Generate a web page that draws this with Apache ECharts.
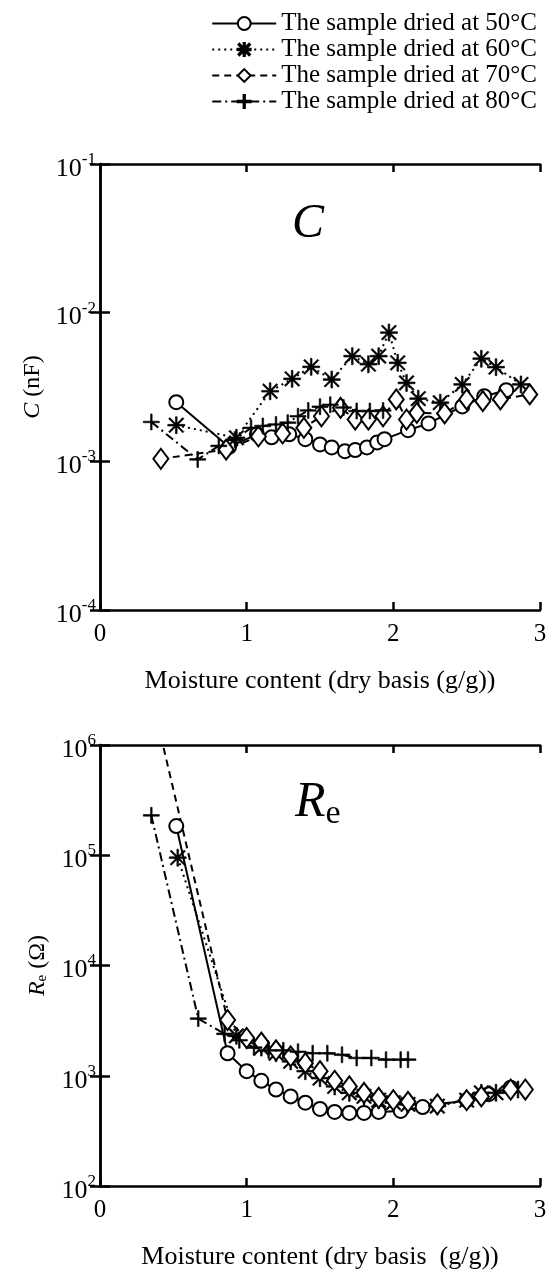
<!DOCTYPE html>
<html><head><meta charset="utf-8">
<script src="https://cdn.jsdelivr.net/npm/echarts@6/dist/echarts.min.js"></script>
<style>html,body{margin:0;padding:0;background:#fff}#c{width:550px;height:1271px}</style>
</head><body><div id="c"></div>
<script>
// ---- data ----
const seriesNames = ['The sample dried at 50\u00B0C','The sample dried at 60\u00B0C','The sample dried at 70\u00B0C','The sample dried at 80\u00B0C'];
const xTicks = [0,1,2,3];

// Capacitance C (nF)
const c50_x = [0.52,0.88,1.07,1.17,1.29,1.40,1.50,1.58,1.67,1.74,1.82,1.89,1.94,2.10,2.24,2.47,2.62,2.77];
const c50_y = [2.5e-3,1.25e-3,1.52e-3,1.45e-3,1.52e-3,1.41e-3,1.30e-3,1.24e-3,1.17e-3,1.19e-3,1.24e-3,1.34e-3,1.41e-3,1.62e-3,1.80e-3,2.34e-3,2.74e-3,3.01e-3];
const c60_x = [0.52,0.93,1.16,1.31,1.44,1.58,1.72,1.83,1.90,1.97,2.03,2.09,2.17,2.32,2.47,2.60,2.70,2.87];
const c60_y = [1.75e-3,1.44e-3,2.96e-3,3.59e-3,4.32e-3,3.55e-3,5.1e-3,4.5e-3,5.1e-3,7.35e-3,4.6e-3,3.37e-3,2.64e-3,2.48e-3,3.29e-3,4.9e-3,4.3e-3,3.29e-3];
const c70_x = [0.415,0.86,1.08,1.245,1.39,1.51,1.64,1.74,1.83,1.93,2.02,2.09,2.16,2.35,2.50,2.61,2.73,2.93];
const c70_y = [1.04e-3,1.2e-3,1.47e-3,1.54e-3,1.68e-3,2.01e-3,2.29e-3,1.91e-3,1.91e-3,2.01e-3,2.61e-3,1.91e-3,2.12e-3,2.10e-3,2.61e-3,2.54e-3,2.61e-3,2.82e-3];
const c80_x = [0.35,0.666,0.81,0.92,1.03,1.11,1.20,1.28,1.35,1.42,1.50,1.57,1.66,1.75,1.84,1.93];
const c80_y = [1.84e-3,1.03e-3,1.27e-3,1.4e-3,1.68e-3,1.73e-3,1.77e-3,1.82e-3,2.01e-3,2.2e-3,2.33e-3,2.4e-3,2.3e-3,2.18e-3,2.18e-3,2.2e-3];

// Resistance Re (Ohm)
const r50_x = [0.52,0.87,1.0,1.1,1.2,1.3,1.4,1.5,1.6,1.7,1.8,1.9,2.05,2.2,2.5,2.65,2.8];
const r50_y = [1.84e5,1.6e3,1.1e3,9e2,7.5e2,6.5e2,5.7e2,5e2,4.7e2,4.6e2,4.6e2,4.7e2,4.8e2,5.2e2,6e2,6.8e2,7.8e2];
const r60_x = [0.53,0.93,1.1,1.2,1.3,1.4,1.5,1.6,1.7,1.8,1.9,2.0,2.1,2.3,2.5,2.6,2.7,2.85];
const r60_y = [9.5e4,2.3e3,1.8e3,1.6e3,1.35e3,1.1e3,9.5e2,8e2,7e2,6.5e2,6e2,5.7e2,5.5e2,5.3e2,6e2,7e2,7e2,7.5e2];
const r70_x = [0.415,0.87,1.0,1.1,1.2,1.3,1.4,1.5,1.6,1.7,1.8,1.9,2.0,2.1,2.3,2.5,2.6,2.8,2.9];
const r70_y = [1.2e6,3.2e3,2.2e3,2e3,1.7e3,1.5e3,1.3e3,1.1e3,9e2,8e2,7e2,6.3e2,6e2,5.8e2,5.5e2,6e2,6.5e2,7.5e2,7.5e2];
const r80_x = [0.35,0.67,0.85,0.95,1.05,1.15,1.25,1.35,1.45,1.55,1.65,1.75,1.85,1.95,2.05,2.1];
const r80_y = [2.3e5,3.3e3,2.4e3,2.1e3,1.8e3,1.7e3,1.7e3,1.65e3,1.6e3,1.6e3,1.55e3,1.45e3,1.45e3,1.4e3,1.4e3,1.4e3];

// ---- rendering ----
const FONT = '"Liberation Serif","Times New Roman",serif';
const pair = (xs, ys) => xs.map((v, i) => [v, ys[i]]);
const ASTER = 'path://M9,0h2v20h-2z M0,9h20v2h-20z M1,2.4L2.4,1L19,17.6L17.6,19z M17.6,1L19,2.4L2.4,19L1,17.6z';
const PLUS = 'path://M9,0h2v20h-2z M0,9h20v2h-20z';

const styles = [
  {symbol: 'emptyCircle', symbolSize: 14, line: 'solid', iw: 2},
  {symbol: ASTER, symbolSize: 17, line: [2, 4], iw: 0.6},
  {symbol: 'emptyDiamond', symbolSize: [15, 20], line: [7, 5], iw: 2},
  {symbol: PLUS, symbolSize: 16, line: [9, 4, 2, 4], iw: 0.6}
];

function mk(i, data, gi) {
  const s = styles[i];
  return {
    name: seriesNames[i], type: 'line', data: data,
    xAxisIndex: gi * 2, yAxisIndex: gi * 2,
    symbol: s.symbol, symbolSize: s.symbolSize, showAllSymbol: true,
    clip: true, animation: false,
    lineStyle: {color: '#000', width: 2, type: s.line},
    itemStyle: {color: '#000', borderColor: '#000', borderWidth: s.iw}
  };
}

const supLabel = v => {
  const e = Math.round(Math.log10(v));
  return '{a|10}{e|' + e + '}';
};
const yLabelRich = {
  a: {fontFamily: FONT, fontSize: 26, color: '#000', padding: [10, 0, 0, 0]},
  e: {fontFamily: FONT, fontSize: 17, color: '#000', padding: [0, 0, 9, 0]}
};

function xAx(gi, name, gap) {
  return [
    {gridIndex: gi, type: 'value', min: 0, max: 3, interval: 1, position: 'bottom',
     axisLine: {lineStyle: {color: '#000', width: 2.5}},
     axisTick: {inside: true, length: 8, lineStyle: {width: 2.5, color: '#000'}},
     axisLabel: {fontFamily: FONT, fontSize: 25, color: '#000', margin: 12},
     splitLine: {show: false},
     name: name, nameLocation: 'middle', nameGap: gap,
     nameTextStyle: {fontFamily: FONT, fontSize: 26, color: '#000'}},
    {gridIndex: gi, type: 'value', min: 0, max: 3, interval: 1, position: 'top',
     axisLine: {lineStyle: {color: '#000', width: 2.5}},
     axisTick: {inside: true, length: 8, lineStyle: {width: 2.5, color: '#000'}},
     axisLabel: {show: false}, splitLine: {show: false}}
  ];
}
function yAx(gi, mn, mx, nameRich, nameStr) {
  return [
    {gridIndex: gi, type: 'log', logBase: 10, min: mn, max: mx, position: 'left',
     axisLine: {lineStyle: {color: '#000', width: 2.5}},
     axisTick: {inside: true, length: 10, lineStyle: {width: 2.5, color: '#000'}},
     minorTick: {show: false},
     axisLabel: {formatter: supLabel, rich: yLabelRich, margin: 4},
     splitLine: {show: false},
     name: nameStr, nameLocation: 'middle', nameGap: 50, nameRotate: 90,
     nameTextStyle: {fontFamily: FONT, fontSize: 24, color: '#000', rich: nameRich}},
    {gridIndex: gi, type: 'log', logBase: 10, min: mn, max: mx, position: 'right',
     axisLine: {lineStyle: {color: '#000', width: 2.5}},
     axisTick: {inside: true, length: 10, lineStyle: {width: 2.5, color: '#000'}},
     axisLabel: {show: false}, splitLine: {show: false}}
  ];
}

const option = {
  backgroundColor: '#fff',
  animation: false,
  textStyle: {fontFamily: FONT},
  legend: {
    orient: 'vertical', right: 8, top: 6, itemWidth: 64, itemHeight: 16, itemGap: 1,
    data: seriesNames,
    textStyle: {fontFamily: FONT, fontSize: 25, color: '#000'}
  },
  grid: [
    {left: 100, right: 10, top: 164, height: 446},
    {left: 100, right: 10, top: 745, height: 445}
  ],
  xAxis: [].concat(xAx(0, 'Moisture content (dry basis (g/g))', 58), xAx(1, 'Moisture content (dry basis  (g/g))', 58)),
  yAxis: [].concat(
    yAx(0, 1e-4, 1e-1, {i: {fontFamily: FONT, fontSize: 24, fontStyle: 'italic', color: '#000'}}, '{i|C} (nF)'),
    yAx(1, 1e2, 1e6, {i: {fontFamily: FONT, fontSize: 24, fontStyle: 'italic', color: '#000'}, s: {fontFamily: FONT, fontSize: 15, color: '#000', padding: [8,0,0,0]}}, '{i|R}{s|e} (\u03A9)')
  ),
  graphic: [
    {type: 'text', left: 292, top: 200, style: {text: 'C', font: 'italic 48px ' + FONT, fill: '#000'}},
    {type: 'text', left: 295, top: 778, style: {
      text: '{r|R}{e|e}', fill: '#000',
      rich: {r: {font: 'italic 50px ' + FONT, fill: '#000'}, e: {font: '34px ' + FONT, fill: '#000', padding: [22, 0, 0, 0]}}
    }}
  ],
  series: [
    mk(0, pair(c50_x, c50_y), 0), mk(1, pair(c60_x, c60_y), 0), mk(2, pair(c70_x, c70_y), 0), mk(3, pair(c80_x, c80_y), 0),
    mk(0, pair(r50_x, r50_y), 1), mk(1, pair(r60_x, r60_y), 1), mk(2, pair(r70_x, r70_y), 1), mk(3, pair(r80_x, r80_y), 1)
  ]
};
const chart = echarts.init(document.getElementById('c'), null, {renderer: 'canvas'});
chart.setOption(option);
</script></body></html>
